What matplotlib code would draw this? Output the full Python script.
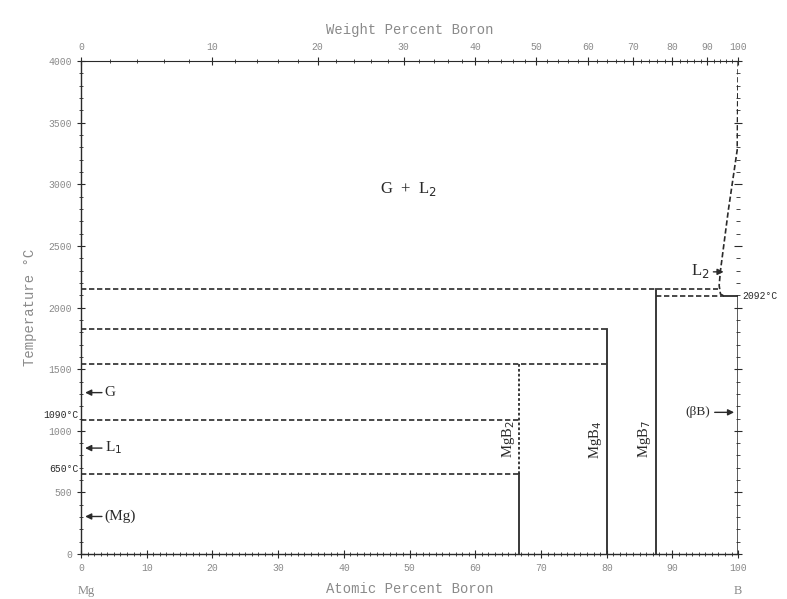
import numpy as np
import matplotlib.pyplot as plt
from matplotlib.ticker import MultipleLocator, FixedLocator

# Mg-B phase diagram
M_MG = 24.305
M_B = 10.81

# horizontal invariant lines: temperature, x start, x end (atomic % B)
inv_temps = [2150, 1830, 1545, 1090, 650, 2092]
inv_start = [0, 0, 0, 0, 0, 87.5]
inv_end = [96.9, 80, 80, 66.7, 66.7, 97.9]

# compounds: composition, upper temperature
comp_x = [66.7, 80.0, 87.5]
comp_top = [1545, 1830, 2150]
comp_names = ['MgB$_2$', 'MgB$_4$', 'MgB$_7$']

# G / L2 boundary on the boron side
gl_x = [100.0, 99.85, 98.5, 97.3, 97.1, 97.3, 97.9]
gl_t = [4000, 3280, 2790, 2300, 2180, 2110, 2092]

# arrow labels on the Mg side
left_lbl = ['G', 'L$_1$', '(Mg)']
left_t = [1310, 860, 305]
wt_ticks = [0, 10, 20, 30, 40, 50, 60, 70, 80, 90, 100]


def at_to_wt(a):
    a = np.asarray(a, dtype=float)
    a = np.clip(a, 0, 100)
    return 100 * a * M_B / (a * M_B + (100 - a) * M_MG)


def wt_to_at(w):
    w = np.asarray(w, dtype=float)
    w = np.clip(w, 0, 100)
    return 100 * (w / M_B) / (w / M_B + (100 - w) / M_MG)


plt.rcParams['font.family'] = ['Liberation Mono', 'DejaVu Sans']
grey = '#8a8a8a'
ink = '#2a2a2a'
dash = (0, (3.2, 1.6))

fig = plt.figure(figsize=(7.87, 5.99), dpi=100)
ax = fig.add_axes([0.103, 0.075, 0.835, 0.823])
ax.set_xlim(0, 100)
ax.set_ylim(0, 4000)

for t, x0, x1 in zip(inv_temps, inv_start, inv_end):
    ax.plot([x0, x1], [t, t], color=ink, lw=1.2, ls=dash)
# short solid piece on B side at 2092
ax.plot([97.9, 100], [2092, 2092], color=ink, lw=1.3)

# compound lines
ax.plot([comp_x[0], comp_x[0]], [650, comp_top[0]], color=ink, lw=1.3, ls=(0, (1.5, 1.2)))
ax.plot([comp_x[0], comp_x[0]], [0, 650], color=ink, lw=1.3)
for x, top in zip(comp_x[1:], comp_top[1:]):
    ax.plot([x, x], [0, top], color=ink, lw=1.3)
for x, name in zip(comp_x, comp_names):
    ax.text(x - 0.4, 930, name, rotation=90, ha='right', va='center',
            fontsize=10.5, color=ink, family='Liberation Serif')

ax.plot(gl_x, gl_t, color=ink, lw=1.2, ls=dash)
ax.plot([100, 100], [0, 2092], color=ink, lw=1.8)

# phase labels
ax.text(49.8, 2960, 'G  +  L$_2$', ha='center', va='center', fontsize=12,
        color=ink, family='Liberation Serif')
for lbl, t in zip(left_lbl, left_t):
    ax.annotate('', xy=(0.2, t), xytext=(3.6, t),
                arrowprops=dict(arrowstyle='-|>', color=ink, lw=1, mutation_scale=9))
    ax.text(3.6, t, lbl, ha='left', va='center', fontsize=11, color=ink,
            family='Liberation Serif')
ax.annotate('', xy=(99.8, 1150), xytext=(96.0, 1150),
            arrowprops=dict(arrowstyle='-|>', color=ink, lw=1, mutation_scale=9))
ax.text(95.8, 1150, '(βB)', ha='right', va='center', fontsize=9.5,
        color=ink, family='Liberation Serif')
ax.annotate('', xy=(98.2, 2290), xytext=(95.8, 2290),
            arrowprops=dict(arrowstyle='-|>', color=ink, lw=1, mutation_scale=9))
ax.text(95.6, 2300, 'L$_2$', ha='right', va='center', fontsize=12,
        color=ink, family='Liberation Serif')

# invariant temperature labels
ax.text(-0.4, 1090, '1090°C', ha='right', va='bottom', fontsize=7, color=ink)
ax.text(-0.4, 650, '650°C', ha='right', va='bottom', fontsize=7, color=ink)
ax.text(100.6, 2092, '2092°C', ha='left', va='center', fontsize=7, color=ink)

# axes styling
for s in ax.spines.values():
    s.set_color(ink)
    s.set_linewidth(1.0)
ax.spines['top'].set_visible(False)
ax.spines['right'].set_visible(False)
ax.xaxis.set_major_locator(MultipleLocator(10))
ax.xaxis.set_minor_locator(MultipleLocator(1))
ax.yaxis.set_major_locator(MultipleLocator(500))
ax.yaxis.set_minor_locator(MultipleLocator(100))
ax.tick_params(which='both', direction='inout', colors=ink, labelcolor=grey, labelsize=7)
ax.tick_params(which='major', length=6)
ax.tick_params(which='minor', length=3)
ax.tick_params(axis='y', which='both', right=True, left=True)
ax.set_ylabel('Temperature °C', fontsize=10, color=grey, labelpad=8)
ax.text(50, -285, 'Atomic Percent Boron', ha='center', va='center', fontsize=10, color=grey)
ax.text(0.8, -300, 'Mg', ha='center', va='center', fontsize=9, color=grey, family='Liberation Serif')
ax.text(100, -300, 'B', ha='center', va='center', fontsize=9, color=grey, family='Liberation Serif')

top = ax.secondary_xaxis('top', functions=(at_to_wt, wt_to_at))
top.spines['top'].set_color(ink)
top.xaxis.set_major_locator(FixedLocator(wt_ticks))
top.xaxis.set_minor_locator(MultipleLocator(2))
top.tick_params(which='both', direction='inout', colors=ink, labelcolor=grey, labelsize=7)
top.tick_params(which='major', length=6)
top.tick_params(which='minor', length=3)
top.set_xlabel('Weight Percent Boron', fontsize=10, color=grey, labelpad=6)

fig.savefig('out.png', dpi=100)
